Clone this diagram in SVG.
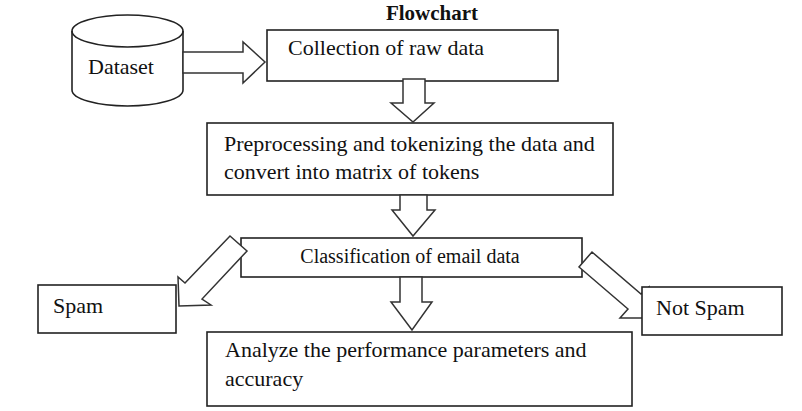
<svg xmlns="http://www.w3.org/2000/svg" width="802" height="411" viewBox="0 0 802 411">
<style>
  .box { fill: #fff; stroke: #222; stroke-width: 1.6; }
  .arrow { fill: #fff; stroke: #333; stroke-width: 1.5; stroke-linejoin: miter; }
  .t { font-family: "Liberation Serif", "Times New Roman", serif; font-size: 22px; fill: #111; }
  .s { font-size: 20px; }
  .title { font-weight: bold; font-size: 21px; }
</style>
<rect width="802" height="411" fill="#fff"/>
<text class="t title" x="432" y="20" text-anchor="middle">Flowchart</text>

<g id="dataset">
  <path class="box" d="M72,31 L72,90 A55.5,16 0 0 0 183,90 L183,31 A55.5,16 0 0 0 72,31 Z"/>
  <path class="box" style="fill:none" d="M72,31 A55.5,16 0 0 0 183,31"/>
  <text class="t" x="88" y="74">Dataset</text>
</g>

<g id="collection">
  <rect class="box" x="267" y="30" width="291" height="51"/>
  <text class="t" x="288" y="55">Collection of raw data</text>
</g>

<g id="preprocessing">
  <rect class="box" x="207" y="123" width="406" height="72"/>
  <text class="t" x="224" y="151">Preprocessing and tokenizing the data and</text>
  <text class="t" x="224" y="179">convert into matrix of tokens</text>
</g>

<g id="classification">
  <rect class="box" x="241" y="238" width="341" height="39"/>
  <text class="t s" x="410" y="263" text-anchor="middle">Classification of email data</text>
</g>

<g id="analyze">
  <rect class="box" x="207" y="332" width="425" height="74"/>
  <text class="t" x="225" y="357">Analyze the performance parameters and</text>
  <text class="t" x="225" y="386">accuracy</text>
</g>

<g id="connectors">
  <polygon class="arrow" points="183,52 243,52 243,42 265,62 243,83 243,73 183,73"/>
  <polygon class="arrow" points="403,79 425,79 425,103 434,103 413,122 391,103 403,103"/>
  <polygon class="arrow" points="400,195 427,195 427,210 435,210 413,236 392,210 400,210"/>
  <polygon class="arrow" points="400,277 422,277 422,302 432,302 412,330 391,302 400,302"/>
  <polygon class="arrow" points="230,236 247,251 202,299 211,305 179,306 178,277 185,283"/>
  <polygon class="arrow" points="592,252 641,294 649,287 649,318 620,318 628,309 579,267"/>
</g>

<g id="spam">
  <rect class="box" x="38" y="285" width="138" height="48"/>
  <text class="t" x="53" y="313">Spam</text>
</g>

<g id="notspam">
  <rect class="box" x="642" y="287" width="140" height="48"/>
  <text class="t" x="656" y="315">Not Spam</text>
</g>
</svg>
